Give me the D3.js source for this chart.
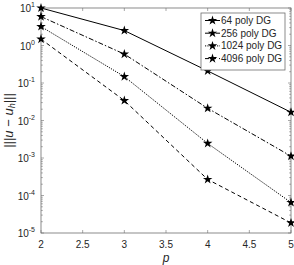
<!DOCTYPE html>
<html>
<head>
<meta charset="utf-8">
<script src="https://cdn.jsdelivr.net/npm/d3@7"></script>
<style>
    body { margin: 0; background: #fff; }
    svg text { font-family: "Liberation Sans", Arial, sans-serif; fill: #262626; }
    .axis-line { stroke: #6e6e6e; stroke-width: 0.8; fill: none; }
    .tick-line { stroke: #6e6e6e; stroke-width: 0.6; }
</style>
</head>
<body>
<svg id="chart"></svg>
<script>
const pValues = [2, 3, 4, 5];
const seriesNames = ["64 poly DG", "256 poly DG", "1024 poly DG", "4096 poly DG"];
const err64 = [10, 2.5, 0.21, 0.0166];
const err256 = [5.9, 0.59, 0.0212, 0.00112];
const err1024 = [3.2, 0.148, 0.00245, 0.000065];
const err4096 = [1.48, 0.034, 0.000268, 0.0000186];
const dashes = ["none", "5,2,1.5,2", "1.2,1.2", "4,3"];
const xTicks = [2, 2.5, 3, 3.5, 4, 4.5, 5];
const yExponents = [1, 0, -1, -2, -3, -4, -5];

const allSeries = [err64, err256, err1024, err4096];

const totalW = 294, totalH = 265;
const margin = { top: 8, right: 3, bottom: 32, left: 41 };
const width = totalW - margin.left - margin.right;
const height = totalH - margin.top - margin.bottom;

const svg = d3.select("#chart")
    .attr("width", totalW)
    .attr("height", totalH);

const g = svg.append("g")
    .attr("transform", `translate(${margin.left},${margin.top})`);

const x = d3.scaleLinear().domain([2, 5]).range([0, width]);
const y = d3.scaleLog().domain([1e-5, 10]).range([height, 0]);

// box
g.append("rect")
    .attr("class", "axis-line")
    .attr("width", width)
    .attr("height", height);

// x ticks (bottom and top, inward)
xTicks.forEach(t => {
    g.append("line").attr("class", "tick-line")
        .attr("x1", x(t)).attr("x2", x(t))
        .attr("y1", height).attr("y2", height - 3);
    g.append("line").attr("class", "tick-line")
        .attr("x1", x(t)).attr("x2", x(t))
        .attr("y1", 0).attr("y2", 3);
    g.append("text")
        .attr("x", x(t))
        .attr("y", height + 15)
        .attr("text-anchor", "middle")
        .attr("font-size", 10)
        .text(t);
});

// y ticks, major and minor
yExponents.forEach(e => {
    const v = Math.pow(10, e);
    [0, width].forEach((xx, k) => {
        g.append("line").attr("class", "tick-line")
            .attr("x1", xx).attr("x2", k === 0 ? xx + 3 : xx - 3)
            .attr("y1", y(v)).attr("y2", y(v));
        if (e > -5) {
            for (let m = 2; m <= 9; m++) {
                const mv = v / 10 * m;
                g.append("line").attr("class", "tick-line")
                    .attr("x1", xx).attr("x2", k === 0 ? xx + 1.8 : xx - 1.8)
                    .attr("y1", y(mv)).attr("y2", y(mv));
            }
        }
    });
    const lbl = g.append("text")
        .attr("x", -6)
        .attr("y", y(v) + 4)
        .attr("text-anchor", "end")
        .attr("font-size", 10);
    lbl.append("tspan").text("10");
    lbl.append("tspan")
        .attr("dy", -5)
        .attr("font-size", 7)
        .text(e);
});

// axis labels
g.append("text")
    .attr("x", width / 2)
    .attr("y", height + 29)
    .attr("text-anchor", "middle")
    .attr("font-family", "Liberation Serif, serif")
    .attr("font-style", "italic")
    .attr("font-size", 12)
    .text("p");

const yl = svg.append("text")
    .attr("transform", `translate(13,${margin.top + height / 2}) rotate(-90)`)
    .attr("text-anchor", "middle")
    .attr("font-family", "Liberation Serif, serif")
    .attr("font-size", 13);
yl.append("tspan").text("|||");
yl.append("tspan").attr("font-style", "italic").text("u");
yl.append("tspan").text(" − ");
yl.append("tspan").attr("font-style", "italic").text("u");
yl.append("tspan").attr("font-style", "italic").attr("font-size", 9).attr("dy", 2).text("h");
yl.append("tspan").attr("dy", -2).text("|||");

const star = d3.symbol().type(d3.symbolStar).size(28);

const line = d3.line()
    .x((d, i) => x(pValues[i]))
    .y(d => y(d));

allSeries.forEach((s, i) => {
    g.append("path")
        .datum(s)
        .attr("fill", "none")
        .attr("stroke", "#000")
        .attr("stroke-width", 1)
        .attr("stroke-dasharray", dashes[i])
        .attr("d", line);
    g.selectAll(null)
        .data(s)
        .enter()
        .append("path")
        .attr("transform", (d, j) => `translate(${x(pValues[j])},${y(d)})`)
        .attr("d", star)
        .attr("fill", "#000");
});

// legend
const lg = svg.append("g").attr("transform", "translate(201,13)");
lg.append("rect")
    .attr("width", 84)
    .attr("height", 57)
    .attr("fill", "#fff")
    .attr("stroke", "#6e6e6e")
    .attr("stroke-width", 0.8);
seriesNames.forEach((name, i) => {
    const yy = 7.5 + i * 12.7;
    lg.append("line")
        .attr("x1", 4).attr("x2", 19)
        .attr("y1", yy).attr("y2", yy)
        .attr("stroke", "#000")
        .attr("stroke-dasharray", dashes[i]);
    lg.append("path")
        .attr("transform", `translate(11.5,${yy})`)
        .attr("d", star)
        .attr("fill", "#000");
    lg.append("text")
        .attr("x", 20)
        .attr("y", yy + 3.5)
        .attr("font-size", 10)
        .text(name);
});
</script>
</body>
</html>
